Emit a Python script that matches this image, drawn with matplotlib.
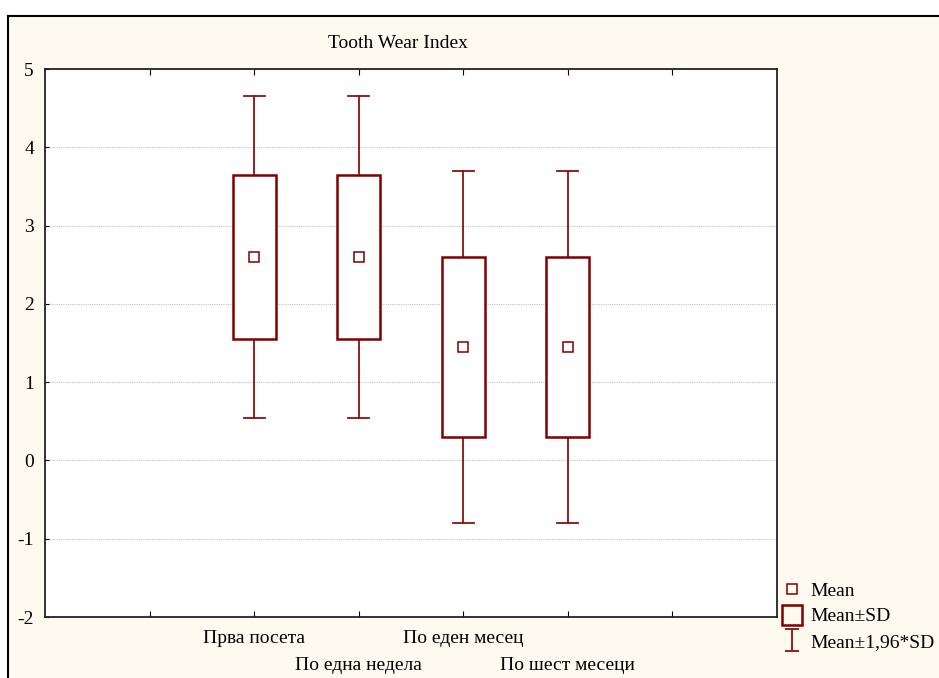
import matplotlib

matplotlib.use("Agg")
import matplotlib.pyplot as plt
import matplotlib.transforms as mtransforms
from matplotlib.lines import Line2D
from matplotlib.patches import Rectangle
from matplotlib.path import Path
import numpy as np

# data
groups = ["Прва посета", "По една недела", "По еден месец", "По шест месеци"]
positions = [2, 3, 4, 5]
means = [2.60, 2.60, 1.45, 1.45]
sds = [1.05, 1.05, 1.145, 1.145]
yticks = [-2, -1, 0, 1, 2, 3, 4, 5]

RED = "#800000"
WHISK = "#8b1010"
CREAM = "#fffaf0"

plt.rcParams["font.family"] = ["Liberation Serif", "DejaVu Serif"]
plt.rcParams["font.size"] = 14

fig = plt.figure(figsize=(9.39, 6.78), dpi=100, facecolor="white")

# cream panel with top/left frame
fx0, fy1 = 8 / 939, 1 - 16 / 678
fig.patches.append(Rectangle((fx0, 0), 1 - fx0, fy1, transform=fig.transFigure,
                             facecolor=CREAM, edgecolor="none", zorder=-5))
fig.lines.append(Line2D([fx0, 1], [fy1, fy1], transform=fig.transFigure, color="black", lw=1.5, zorder=-4))
fig.lines.append(Line2D([fx0, fx0], [0, fy1], transform=fig.transFigure, color="black", lw=1.5, zorder=-4))

ax = fig.add_axes([45 / 939, 1 - 617 / 678, (777 - 45) / 939, (617 - 69) / 678])
ax.set_facecolor("white")

means = np.array(means)
sds = np.array(sds)
box_w = 0.41
cap_w = 0.2
for x, m, s in zip(positions, means, sds):
    lo, hi = m - 1.96 * s, m + 1.96 * s
    ax.plot([x, x], [m + s, hi], color=WHISK, lw=1.3, zorder=3)
    ax.plot([x, x], [lo, m - s], color=WHISK, lw=1.3, zorder=3)
    ax.plot([x - cap_w / 2, x + cap_w / 2], [hi, hi], color=WHISK, lw=1.3, zorder=3)
    ax.plot([x - cap_w / 2, x + cap_w / 2], [lo, lo], color=WHISK, lw=1.3, zorder=3)
    ax.add_patch(Rectangle((x - box_w / 2, m - s), box_w, 2 * s, facecolor="white",
                           edgecolor=RED, lw=1.8, zorder=4))
ax.plot(positions, means, ls="none", marker="s", ms=6.5, mfc="white", mec=RED, mew=1.1, zorder=5)

ax.set_xlim(0, 7)
ax.set_ylim(-2, 5)
ax.set_yticks(yticks)
ax.set_yticklabels([str(v) for v in yticks])
ax.set_xticks([1, 2, 3, 4, 5, 6])
ax.set_xticklabels([])
ax.tick_params(axis="y", direction="in", length=3, left=True, right=False, pad=8)
ax.tick_params(axis="x", direction="in", length=4, top=True, bottom=True)
ax.yaxis.grid(True, color="#c4c4c4", ls=(0, (1, 1)), lw=0.8)
ax.set_axisbelow(True)
for sp in ax.spines.values():
    sp.set_linewidth(1.3)
    sp.set_color("#222222")

# staggered category labels
trans = mtransforms.blended_transform_factory(ax.transData, ax.transAxes)
for i, (x, g) in enumerate(zip(positions, groups)):
    yoff = -0.039 if i % 2 == 0 else -0.089
    ax.text(x, yoff, g, transform=trans, ha="center", va="center")

fig.text(398 / 939, 1 - 44 / 678, "Tooth Wear Index", ha="center", va="center")

# legend
ipath = Path([(-0.6, 1), (0.6, 1), (0, 1), (0, -1), (-0.6, -1), (0.6, -1)],
             [Path.MOVETO, Path.LINETO, Path.MOVETO, Path.LINETO, Path.MOVETO, Path.LINETO])
handles = [
    Line2D([], [], ls="none", marker="s", ms=6.5, mfc="none", mec=RED, mew=1.1),
    Line2D([], [], ls="none", marker="s", ms=14, mfc="none", mec=RED, mew=1.8),
    Line2D([], [], ls="none", marker=ipath, ms=16, mfc="none", mec=WHISK, mew=1.3),
]
fig.legend(handles, ["Mean", "Mean±SD", "Mean±1,96*SD"], loc="upper left",
           bbox_to_anchor=(782 / 939, 1 - 582 / 678), frameon=False,
           handlelength=1.0, handletextpad=0.45, labelspacing=0.42, borderpad=0, borderaxespad=0)

fig.savefig("out.png", dpi=100, facecolor="white")
